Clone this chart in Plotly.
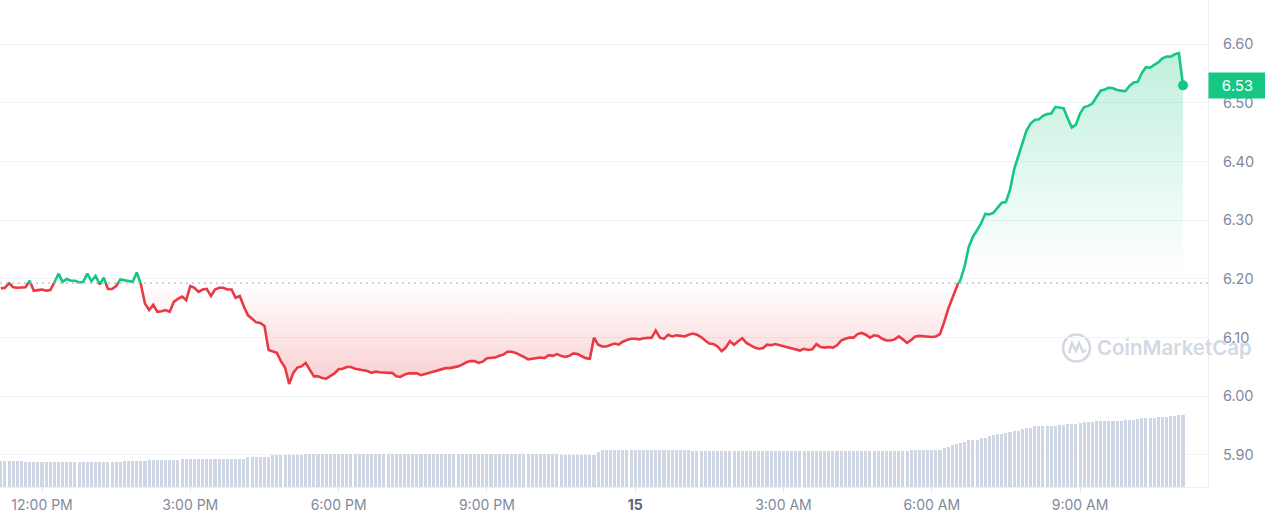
import pandas as pd
import plotly.graph_objects as go

# ---------------- data ----------------
start_time = "2024-09-14 11:10"
times = pd.date_range(start_time, periods=288, freq="5min")

price = [
    6.184, 6.185, 6.193, 6.186, 6.185, 6.185, 6.186, 6.197, 6.180, 6.181,
    6.182, 6.180, 6.181, 6.194, 6.209, 6.195, 6.200, 6.197, 6.197, 6.194,
    6.195, 6.209, 6.196, 6.205, 6.191, 6.202, 6.183, 6.183, 6.188, 6.199,
    6.198, 6.197, 6.195, 6.211, 6.191, 6.158, 6.147, 6.156, 6.144, 6.145,
    6.147, 6.144, 6.161, 6.166, 6.170, 6.164, 6.188, 6.185, 6.178, 6.182,
    6.183, 6.171, 6.182, 6.185, 6.185, 6.182, 6.182, 6.168, 6.171, 6.153,
    6.138, 6.132, 6.126, 6.125, 6.120, 6.079, 6.077, 6.074, 6.060, 6.049,
    6.021, 6.040, 6.049, 6.051, 6.057, 6.045, 6.034, 6.034, 6.031, 6.030,
    6.035, 6.039, 6.046, 6.047, 6.050, 6.050, 6.047, 6.046, 6.044, 6.043,
    6.040, 6.042, 6.041, 6.040, 6.040, 6.040, 6.034, 6.033, 6.037, 6.039,
    6.039, 6.039, 6.036, 6.038, 6.041, 6.042, 6.044, 6.046, 6.048, 6.048,
    6.049, 6.051, 6.054, 6.058, 6.060, 6.060, 6.057, 6.059, 6.065, 6.066,
    6.066, 6.069, 6.071, 6.076, 6.076, 6.074, 6.071, 6.067, 6.063, 6.064,
    6.066, 6.066, 6.065, 6.070, 6.069, 6.072, 6.069, 6.067, 6.069, 6.073,
    6.072, 6.068, 6.065, 6.064, 6.100, 6.088, 6.085, 6.085, 6.087, 6.090,
    6.088, 6.093, 6.096, 6.098, 6.098, 6.097, 6.099, 6.099, 6.100, 6.112,
    6.100, 6.098, 6.105, 6.102, 6.104, 6.103, 6.102, 6.105, 6.107, 6.105,
    6.101, 6.095, 6.090, 6.089, 6.085, 6.077, 6.083, 6.094, 6.088, 6.094,
    6.099, 6.091, 6.087, 6.083, 6.081, 6.082, 6.088, 6.087, 6.089, 6.087,
    6.085, 6.083, 6.082, 6.079, 6.078, 6.081, 6.079, 6.080, 6.089, 6.084,
    6.083, 6.084, 6.083, 6.087, 6.095, 6.098, 6.100, 6.100, 6.106, 6.108,
    6.105, 6.100, 6.104, 6.103, 6.098, 6.095, 6.095, 6.097, 6.102, 6.097,
    6.091, 6.096, 6.102, 6.103, 6.102, 6.102, 6.101, 6.102, 6.106, 6.126,
    6.149, 6.167, 6.185, 6.199, 6.222, 6.255, 6.272, 6.283, 6.295, 6.311,
    6.310, 6.313, 6.321, 6.330, 6.331, 6.352, 6.387, 6.410, 6.431, 6.453,
    6.465, 6.471, 6.472, 6.478, 6.481, 6.482, 6.493, 6.492, 6.491, 6.474,
    6.458, 6.463, 6.482, 6.493, 6.495, 6.499, 6.509, 6.521, 6.523, 6.526,
    6.525, 6.522, 6.521, 6.520, 6.529, 6.535, 6.536, 6.551, 6.561, 6.560,
    6.565, 6.569, 6.576, 6.579, 6.579, 6.583, 6.585, 6.530,
]

volume = [
    51, 51, 51, 51, 51, 51, 49, 49, 49, 49,
    49, 49, 49, 49, 49, 49, 49, 49, 49, 49,
    49, 49, 49, 49, 49, 49, 49, 49, 49, 49,
    51, 51, 51, 51, 51, 51, 54, 54, 54, 54,
    54, 54, 54, 54, 56, 56, 56, 56, 56, 56,
    56, 56, 56, 56, 56, 56, 56, 56, 56, 56,
    59, 59, 59, 59, 59, 59, 63, 63, 63, 63,
    63, 63, 63, 63, 66, 66, 66, 66, 66, 66,
    66, 66, 66, 66, 66, 66, 66, 66, 66, 66,
    66, 66, 66, 66, 66, 66, 66, 66, 66, 66,
    66, 66, 66, 66, 66, 66, 66, 66, 66, 66,
    66, 66, 66, 66, 66, 66, 66, 66, 66, 66,
    66, 66, 66, 66, 66, 66, 66, 66, 66, 66,
    66, 66, 66, 66, 66, 66, 64, 64, 64, 64,
    64, 64, 64, 64, 64, 70, 74, 74, 74, 74,
    74, 74, 74, 74, 74, 74, 74, 74, 74, 74,
    74, 74, 74, 74, 74, 74, 74, 74, 72, 72,
    72, 72, 72, 72, 72, 72, 72, 72, 72, 72,
    72, 72, 72, 72, 72, 72, 72, 72, 72, 72,
    72, 72, 72, 72, 72, 72, 72, 72, 72, 72,
    72, 72, 72, 72, 72, 72, 72, 72, 72, 72,
    72, 72, 72, 72, 72, 72, 72, 72, 72, 72,
    72, 74, 74, 74, 74, 74, 74, 74, 74, 78,
    80, 83, 85, 87, 89, 93, 94, 94, 98, 98,
    101, 103, 105, 105, 107, 109, 111, 112, 115, 118,
    118, 121, 121, 121, 121, 122, 122, 124, 124, 126,
    126, 126, 128, 130, 130, 130, 132, 132, 132, 132,
    132, 132, 132, 134, 134, 134, 135, 137, 138, 138,
    138, 140, 140, 140, 142, 142, 144, 144,
]

ref_price = 6.193  # price 24h ago (dotted baseline)
price_lo, price_hi = 5.8454, 6.6755
price_ticks = [5.90, 6.00, 6.10, 6.20, 6.30, 6.40, 6.50, 6.60]

x_tick_vals = ["2024-09-14 12:00", "2024-09-14 15:00", "2024-09-14 18:00", "2024-09-14 21:00",
               "2024-09-15 00:00", "2024-09-15 03:00", "2024-09-15 06:00", "2024-09-15 09:00"]
x_tick_text = ["12:00 PM", "3:00 PM", "6:00 PM", "9:00 PM",
               "<b><span style='color:#58667e'>15</span></b>", "3:00 AM", "6:00 AM", "9:00 AM"]
x_range = ["2024-09-14 11:09:00", "2024-09-15 11:35:20"]

# ---------------- style ----------------
GREEN = "#16c784"
RED = "#ea3943"
GRID = "#f2f3f5"
AXIS_LINE = "#e9ecf0"
TICK_COLOR = "#808a9d"
FONT = "Inter"

split = (ref_price - price_lo) / (price_hi - price_lo)  # paper fraction of baseline
n = len(price)
baseline = [ref_price] * n

fig = go.Figure()

# lower (below baseline) subplot: red line + red gradient fill
fig.add_trace(go.Scatter(x=times, y=baseline, xaxis="x", yaxis="y3", mode="lines",
                         line=dict(width=0), hoverinfo="skip", showlegend=False))
fig.add_trace(go.Scatter(
    x=times, y=price, xaxis="x", yaxis="y3", mode="lines",
    line=dict(color=RED, width=2.6), fill="tonexty",
    fillgradient=dict(type="vertical", start=6.02, stop=ref_price,
                      colorscale=[[0, "rgba(234,57,67,0.25)"], [0.6, "rgba(234,57,67,0.10)"],
                                  [1, "rgba(234,57,67,0.0)"]]),
    showlegend=False))

# upper (above baseline) subplot: green line + green gradient fill
fig.add_trace(go.Scatter(x=times, y=baseline, xaxis="x", yaxis="y", mode="lines",
                         line=dict(width=0), hoverinfo="skip", showlegend=False))
fig.add_trace(go.Scatter(
    x=times, y=price, xaxis="x", yaxis="y", mode="lines",
    line=dict(color=GREEN, width=2.6), fill="tonexty",
    fillgradient=dict(type="vertical", start=6.21, stop=6.585,
                      colorscale=[[0, "rgba(22,199,132,0.0)"], [1, "rgba(22,199,132,0.27)"]]),
    showlegend=False))

# volume bars
fig.add_trace(go.Bar(x=times, y=volume, xaxis="x", yaxis="y2",
                     marker=dict(color="#cfd6e4", line=dict(width=0)),
                     width=5 * 60 * 1000 * 0.74, showlegend=False, hoverinfo="skip"))

# last price dot
fig.add_trace(go.Scatter(x=[times[-1]], y=[price[-1]], xaxis="x", yaxis="y", mode="markers",
                         marker=dict(color=GREEN, size=10), showlegend=False))

yaxis_common = dict(side="right", anchor="x", showgrid=True, gridcolor=GRID, gridwidth=1,
                    zeroline=False, showline=True, linecolor=AXIS_LINE, linewidth=1,
                    ticks="", ticklabelstandoff=11, tickformat=".2f",
                    tickfont=dict(family=FONT, size=14.5, color=TICK_COLOR), fixedrange=True)

fig.update_layout(
    width=1265, height=522,
    margin=dict(l=0, r=57, t=0, b=35),
    paper_bgcolor="white", plot_bgcolor="white",
    showlegend=False, bargap=0,
    xaxis=dict(type="date", range=x_range, anchor="y3", tickvals=x_tick_vals, ticktext=x_tick_text,
               showgrid=False, zeroline=False, showline=True, linecolor="#eef0f3", linewidth=1,
               ticks="outside", ticklen=5, tickcolor="#e6e9ee",
               tickfont=dict(family=FONT, size=14, color=TICK_COLOR)),
    yaxis=dict(domain=[split, 1], range=[ref_price, price_hi],
               tickvals=[t for t in price_ticks if t > ref_price], **yaxis_common),
    yaxis3=dict(domain=[0, split], range=[price_lo, ref_price],
                tickvals=[t for t in price_ticks if t < ref_price], **yaxis_common),
    yaxis2=dict(overlaying="y3", anchor="x", range=[0, 408], visible=False, fixedrange=True),
)

# dotted baseline
fig.add_shape(type="line", xref="paper", yref="paper", x0=0, x1=1, y0=split, y1=split,
              line=dict(color="#b4b9c2", width=1.3, dash="2px,4px"), layer="above")

# current price label
fig.add_annotation(x=1, xref="paper", xanchor="left", y=price[-1], yref="y",
                   text=f"{price[-1]:.2f}", showarrow=False, width=55, height=23, borderpad=1,
                   bgcolor=GREEN, font=dict(family=FONT, size=15, color="white"), align="center")

# watermark: logo + text
WM = "#d3d9e4"
wm_y = (487 - 348) / 487
fig.add_shape(type="circle", xref="paper", yref="paper", xsizemode="pixel", ysizemode="pixel",
              xanchor=1, yanchor=wm_y, x0=-145, x1=-118, y0=-13.5, y1=13.5,
              line=dict(color=WM, width=2.6), layer="below")
fig.add_shape(type="path", xref="paper", yref="paper", xsizemode="pixel", ysizemode="pixel",
              xanchor=1, yanchor=wm_y,
              path="M -139,-5 L -136,5 L -132,-3 L -129,5 L -125,-4 L -122,-2",
              line=dict(color=WM, width=2.4), layer="below")
fig.add_annotation(x=1095 / 1208, xref="paper", xanchor="left", y=wm_y, yref="paper",
                   yanchor="middle", text="CoinMarketCap", showarrow=False,
                   font=dict(family=FONT, size=20.5, color=WM, weight=600))

fig.write_html("out.html", config={"displayModeBar": False},
               post_script="document.body.style.margin='0';document.body.style.overflow='hidden';")
